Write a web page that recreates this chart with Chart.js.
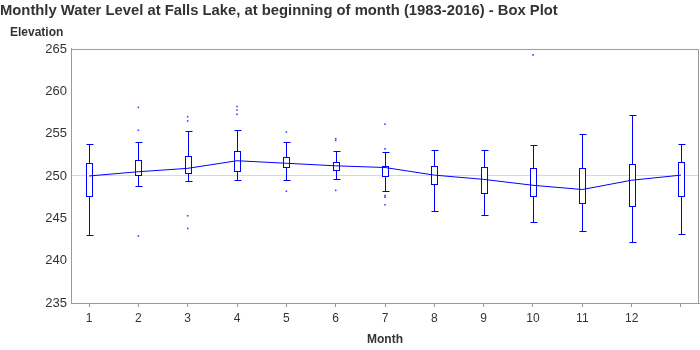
<!DOCTYPE html>
<html>
<head>
<meta charset="utf-8">
<script src="https://cdn.jsdelivr.net/npm/chart.js@4.4.1/dist/chart.umd.min.js"></script>
<style>
  html, body { margin: 0; padding: 0; background: #fff; }
  #wrap { width: 700px; height: 350px; }
</style>
</head>
<body>
<div id="wrap"><canvas id="chart"></canvas></div>
<script>
// one box per position; position 13 is January of the following year
const months = [1, 2, 3, 4, 5, 6, 7, 8, 9, 10, 11, 12, 13];
const monthLabels = ['1', '2', '3', '4', '5', '6', '7', '8', '9', '10', '11', '12', ''];

const whiskerLow  = [243.0, 248.8, 249.4, 249.5, 249.5, 249.6, 248.2, 245.9, 245.4, 244.6, 243.5, 242.2, 243.1];
const q1          = [247.6, 250.1, 250.3, 250.6, 251.1, 250.7, 250.0, 249.1, 248.0, 247.6, 246.8, 246.4, 247.6];
const means       = [250.0, 250.5, 250.9, 251.8, 251.5, 251.2, 251.0, 250.1, 249.6, 248.9, 248.4, 249.5, 250.1];
const q3          = [251.5, 251.9, 252.4, 252.9, 252.3, 251.7, 251.2, 251.2, 251.1, 250.9, 250.9, 251.4, 251.7];
const whiskerHigh = [253.8, 254.0, 255.3, 255.4, 254.0, 252.9, 252.8, 253.1, 253.1, 253.6, 255.0, 257.2, 253.8];

const outlierMonths = [2, 2, 2, 3, 3, 3, 3, 4, 4, 4, 5, 5, 6, 6, 6, 7, 7, 7, 7, 7, 10];
const outlierValues = [258.1, 255.4, 242.9, 257.0, 256.5, 245.3, 243.8, 258.2, 257.8, 257.3,
                       255.2, 248.2, 254.4, 254.2, 248.3, 256.1, 253.2, 247.7, 247.5, 246.6, 264.3];

const yTicks = [235, 240, 245, 250, 255, 260, 265];

const BLUE = '#0000ff';
const AXIS_GRAY = '#9a9a9a';
const TEXT = '#333333';
const FONT = '"Liberation Sans", Arial, sans-serif';

// boxes + whiskers drawn under the mean line, through the chart scales
const boxPlot = {
  id: 'boxPlot',
  beforeDatasetsDraw(chart) {
    const { ctx, scales: { x, y } } = chart;
    const half = 3;
    ctx.save();
    ctx.strokeStyle = BLUE;
    ctx.lineWidth = 1;
    months.forEach((m, i) => {
      const cx = Math.round(x.getPixelForValue(m)) + 0.5;
      const yLo = Math.round(y.getPixelForValue(whiskerLow[i])) + 0.5;
      const yHi = Math.round(y.getPixelForValue(whiskerHigh[i])) + 0.5;
      const yQ1 = Math.round(y.getPixelForValue(q1[i])) + 0.5;
      const yQ3 = Math.round(y.getPixelForValue(q3[i])) + 0.5;
      ctx.beginPath();
      ctx.moveTo(cx, yHi); ctx.lineTo(cx, yQ3);
      ctx.moveTo(cx, yQ1); ctx.lineTo(cx, yLo);
      ctx.moveTo(cx - half, yHi); ctx.lineTo(cx + half + 1, yHi);
      ctx.moveTo(cx - half, yLo); ctx.lineTo(cx + half + 1, yLo);
      ctx.stroke();
      ctx.fillStyle = '#ffffff';
      ctx.fillRect(cx - half, yQ3, half * 2, yQ1 - yQ3);
      ctx.strokeRect(cx - half, yQ3, half * 2, yQ1 - yQ3);
    });
    ctx.restore();
  },
  afterDraw(chart) {
    const { ctx, chartArea: a } = chart;
    ctx.save();
    ctx.strokeStyle = AXIS_GRAY;
    ctx.lineWidth = 1;
    ctx.strokeRect(a.left + 0.5, a.top + 0.5, a.right - a.left - 1, a.bottom - a.top);
    ctx.fillStyle = TEXT;
    ctx.font = 'bold 12px ' + FONT;
    ctx.textBaseline = 'middle';
    ctx.fillText('Elevation', 10, 33);
    ctx.restore();
  }
};

new Chart(document.getElementById('chart'), {
  type: 'line',
  data: {
    datasets: [
      {
        label: 'Mean',
        data: months.map((m, i) => ({ x: m, y: means[i] })),
        borderColor: BLUE,
        borderWidth: 1,
        pointRadius: 0,
        tension: 0,
        order: 2
      },
      {
        type: 'scatter',
        label: 'Outliers',
        data: outlierMonths.map((m, i) => ({ x: m, y: outlierValues[i] })),
        pointStyle: 'rect',
        pointRadius: 1.1,
        borderWidth: 0,
        backgroundColor: '#3b3bff',
        order: 1
      }
    ]
  },
  options: {
    responsive: true,
    maintainAspectRatio: false,
    animation: false,
    layout: { autoPadding: false, padding: { left: 0, right: 1, top: 0, bottom: 0 } },
    plugins: {
      legend: { display: false },
      tooltip: { enabled: false },
      title: {
        display: true,
        text: 'Monthly Water Level at Falls Lake, at beginning of month (1983-2016) - Box Plot',
        align: 'start',
        color: TEXT,
        font: { family: FONT, size: 14.8, weight: 'bold' },
        padding: { top: 2, bottom: 29.2 }
      }
    },
    scales: {
      x: {
        type: 'linear',
        min: 0.635,
        max: 13.365,
        afterBuildTicks: axis => { axis.ticks = months.map(v => ({ value: v })); },
        afterFit: axis => {
          axis.height = 47;
          axis.paddingLeft = 0;
          axis.paddingRight = 0;
        },
        ticks: {
          autoSkip: false,
          maxRotation: 0,
          color: TEXT,
          padding: 4,
          font: { family: FONT, size: 12 },
          callback: (v, i) => monthLabels[i]
        },
        grid: { drawOnChartArea: false, tickLength: 4, color: AXIS_GRAY },
        border: { color: AXIS_GRAY },
        title: {
          display: true,
          text: 'Month',
          color: TEXT,
          font: { family: FONT, size: 12, weight: 'bold' },
          padding: { top: 0, bottom: 3 }
        }
      },
      y: {
        min: 235,
        max: 265,
        afterBuildTicks: axis => { axis.ticks = yTicks.map(v => ({ value: v })); },
        afterFit: axis => { axis.width = 71; },
        ticks: {
          color: TEXT,
          padding: 4,
          font: { family: FONT, size: 13 }
        },
        grid: {
          drawTicks: false,
          color: c => (c.tick && c.tick.value === 250 ? '#d9d9d9' : 'rgba(0,0,0,0)')
        },
        border: { color: AXIS_GRAY }
      }
    }
  },
  plugins: [boxPlot]
});
</script>
</body>
</html>
